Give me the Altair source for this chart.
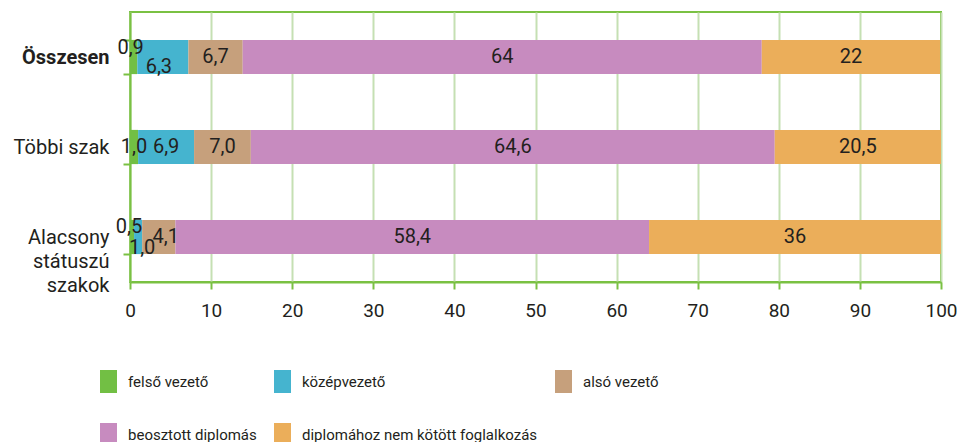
import altair as alt
import pandas as pd

categories = ["Összesen", "Többi szak", "Alacsony státuszú szakok"]
series = ["felső vezető", "középvezető", "alsó vezető", "beosztott diplomás",
          "diplomához nem kötött foglalkozás"]
colors = ["#72bf44", "#45b4cf", "#c6a07c", "#c78bbf", "#ebae5a"]

felso = [0.9, 1.0, 0.5]
kozep = [6.3, 6.9, 1.0]
also = [6.7, 7.0, 4.1]
beosztott = [64, 64.6, 58.4]
nemkotott = [22, 20.5, 36]

felso_lbl = ["0,9", "1,0", "0,5"]
kozep_lbl = ["6,3", "6,9", "1,0"]
also_lbl = ["6,7", "7,0", "4,1"]
beosztott_lbl = ["64", "64,6", "58,4"]
nemkotott_lbl = ["22", "20,5", "36"]

x_ticks = [0, 10, 20, 30, 40, 50, 60, 70, 80, 90, 100]

rows = []
for si, (vals, lbls) in enumerate(zip(
        [felso, kozep, also, beosztott, nemkotott],
        [felso_lbl, kozep_lbl, also_lbl, beosztott_lbl, nemkotott_lbl])):
    for ci, cat in enumerate(categories):
        rows.append({"cat": cat, "series": series[si], "ord": si,
                     "value": vals[ci], "label": lbls[ci]})
df = pd.DataFrame(rows)

FONT = "Roboto"
TXT = "#231f20"
GREEN = "#7ac143"
GRID = "#c5e0b3"

base = alt.Chart(df).transform_stack(
    stack="value", groupby=["cat"], as_=["x0", "x1"],
    sort=[alt.SortField("ord", order="ascending")]
).transform_calculate(mid="(datum.x0 + datum.x1) / 2")

yenc = alt.Y("cat:N", sort=categories, title=None,
             scale=alt.Scale(paddingInner=0.62, paddingOuter=0.31),
             axis=alt.Axis(
                 labelExpr="datum.label == 'Alacsony státuszú szakok' ? ['Alacsony', 'státuszú', 'szakok'] : datum.label",
                 labelFontWeight=alt.condition("datum.label == 'Összesen'", alt.value("bold"), alt.value("normal")),
                 labelFont=FONT, labelFontSize=20, labelColor=TXT,
                 labelLineHeight=24, labelPadding=14, tickBand="extent",
                 tickSize=7, tickColor=GREEN, tickWidth=2,
                 domainColor=GREEN, domainWidth=2, grid=False, labelAlign="right"))

xscale = alt.Scale(domain=[0, 100], nice=False)

bars = base.mark_bar().encode(
    x=alt.X("x0:Q", scale=xscale, title=None,
            axis=alt.Axis(values=x_ticks, labelFont=FONT, labelFontSize=19,
                          labelColor=TXT, labelPadding=12, tickSize=7,
                          tickColor=GREEN, tickWidth=2, domainColor=GREEN,
                          domainWidth=2, grid=True, gridColor=GRID,
                          gridWidth=2, labelFlush=False)),
    x2="x1:Q",
    y=yenc,
    color=alt.Color("series:N", sort=series,
                    scale=alt.Scale(domain=series, range=colors),
                    legend=alt.Legend(
                        title=None, orient="none", legendX=-33, legendY=358,
                        direction="horizontal",
                        columns=3, columnPadding=14, rowPadding=30,
                        gridAlign="each", labelLimit=400,
                        symbolType="M-0.74,-1L0.74,-1L0.74,1L-0.74,1Z",
                        symbolSize=529, symbolStrokeWidth=0,
                        symbolOpacity=1, labelFont=FONT, labelFontSize=15,
                        labelColor=TXT, labelOffset=8)),
)

ALAC = "Alacsony státuszú szakok"
special = [
    ("datum.series == 'felső vezető' && datum.cat == 'Összesen'", -3, -9),
    ("datum.series == 'középvezető' && datum.cat == 'Összesen'", -4, 10),
    (f"datum.series == 'felső vezető' && datum.cat == '{ALAC}'", -3, -10),
    (f"datum.series == 'középvezető' && datum.cat == '{ALAC}'", 4, 11),
    (f"datum.series == 'alsó vezető' && datum.cat == '{ALAC}'", 7, 0),
]

def text_layer(test, dx, dy):
    return base.transform_filter(test).mark_text(
        font=FONT, fontSize=20, color=TXT, dx=dx, dy=dy,
        align="center", baseline="middle"
    ).encode(x=alt.X("mid:Q", scale=xscale), y=alt.Y("cat:N", sort=categories),
             text="label:N")

not_special = " && ".join(f"!({t})" for t, _, _ in special)
layers = [bars, text_layer(not_special, 0, 0)]
layers += [text_layer(t, dx, dy) for t, dx, dy in special]

chart = alt.layer(*layers).properties(
    width=811, height=270,
    autosize=alt.AutoSizeParams(type="none"),
    padding={"left": 122, "top": 4, "right": 17, "bottom": 160},
).configure_view(stroke=GREEN, strokeWidth=2)

chart.save("out.html", embed_options={"renderer": "svg", "actions": False})
